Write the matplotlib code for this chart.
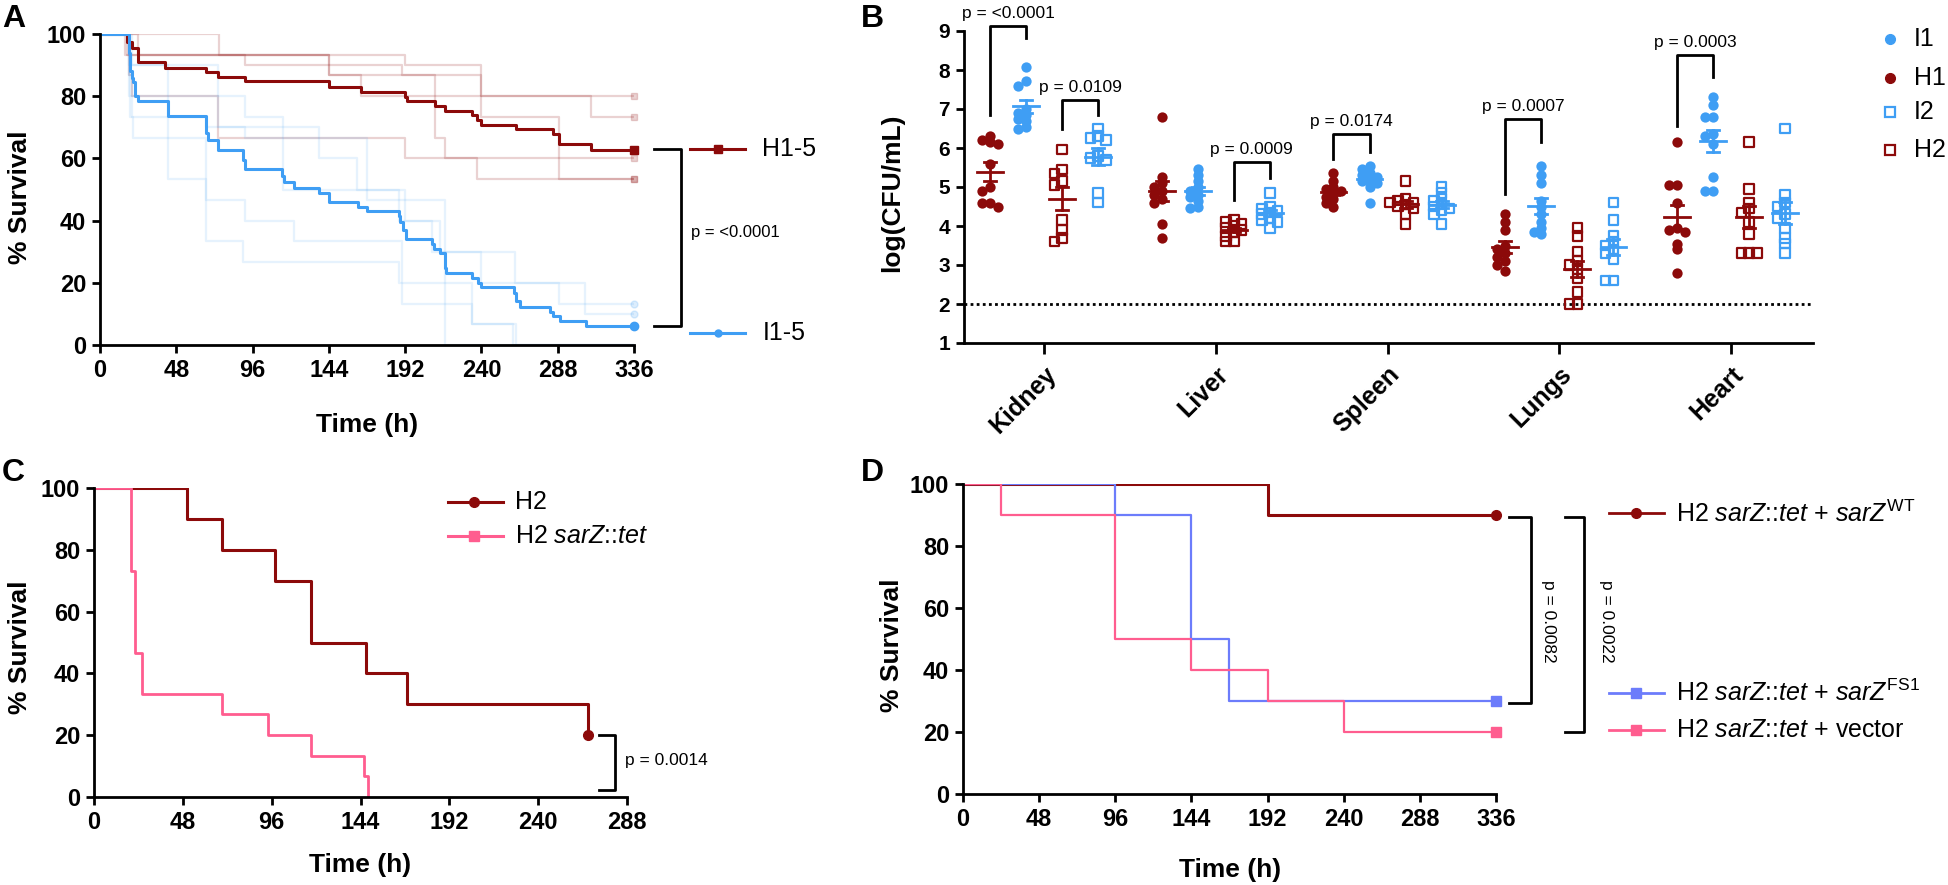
import matplotlib
matplotlib.use('Agg')
import matplotlib.pyplot as plt
import numpy as np
from matplotlib.lines import Line2D

plt.rcParams['mathtext.fontset'] = 'custom'
plt.rcParams['mathtext.rm'] = 'Liberation Sans'
plt.rcParams['mathtext.it'] = 'Liberation Sans:italic'
plt.rcParams['mathtext.bf'] = 'Liberation Sans:bold'

SANS = ['Liberation Sans', 'DejaVu Sans']
NARROW = ['Liberation Sans Narrow', 'Liberation Sans', 'DejaVu Sans']

DRED = '#8c0a0a'
BLUE = '#3f9ef4'
PINK = '#ff5d8f'
PERI = '#6c7cfb'

# ---------- panel A : pooled survival (H1-5 vs I1-5) ----------
h1_t = [17, 20, 24, 41, 67, 74.5, 91, 144, 164, 192, 193, 211, 217, 234, 237, 240, 261.5, 285, 289, 309]
h1_s = [97.3, 95.5, 91, 89, 87.8, 86.2, 84.8, 82.9, 81.5, 79.9, 78.5, 76.9, 75.4, 74, 72.3, 70.8, 69.4, 67.7, 64.7, 62.8]
i1_t = [18, 19, 20, 21, 22, 24, 43, 67, 68, 74.5, 90, 91, 114.7, 115.6, 122, 138, 144, 162.5, 168, 188, 189,
        190.6, 192.6, 209, 210, 214, 217, 218, 234, 237.6, 240, 260.7, 261.5, 264, 283, 285, 289.6, 305.6]
i1_s = [94, 88, 86, 84.5, 80, 78.3, 73.7, 68.1, 66, 62.8, 59.5, 56.7, 54.2, 52.3, 50.6, 49, 46.1, 44.5, 43.1,
        41.5, 39.7, 37, 34, 32.4, 30.8, 29.5, 24.7, 23.1, 21.7, 19.8, 18.6, 16.8, 14, 12.3, 10.7, 9.3, 7.7, 6.1]

# single strains (faint)
red_t = [[24, 192, 240, 309], [75, 144, 240], [18, 20, 74.5, 192],
         [17, 91, 190, 211, 217, 237], [16, 144, 164, 240, 289]]
red_s = [[93.3, 90, 80, 73.3], [93.3, 86.7, 80], [86.7, 80, 66.7, 60],
         [93.3, 90, 86.7, 66.7, 60, 53.3], [93.3, 86.7, 80, 73.3, 53.3]]
blue_t = [[18, 20, 43, 67, 90, 188, 190, 234, 260], [18, 20, 67, 91, 115, 192, 209, 217],
          [20, 74.5, 138, 162, 188, 214, 261, 305], [18, 43, 91, 115, 168, 217, 240, 289],
          [19, 21, 67, 91, 122, 190, 234, 262]]
blue_s = [[86.7, 80, 53.3, 33.3, 26.7, 20, 13.3, 6.7, 0], [80, 73.3, 70, 66.7, 50, 40, 30, 0],
          [90, 70, 60, 50, 40, 30, 20, 10], [90, 80, 73.3, 66.7, 46.7, 30, 20, 13.3],
          [73.3, 66.7, 46.7, 40, 33.3, 20, 6.7, 0]]

# ---------- panel B : organ burden ----------
organs = ['Kidney', 'Liver', 'Spleen', 'Lungs', 'Heart']
groups = ['H1', 'I1', 'H2', 'I2']
cfu_h1 = [[6.3, 6.2, 6.15, 6.1, 5.6, 5.0, 4.9, 4.6, 4.6, 4.5],
          [6.8, 5.25, 5.1, 5.0, 4.9, 4.8, 4.7, 4.6, 4.05, 3.7],
          [5.35, 5.15, 5.0, 4.95, 4.9, 4.85, 4.75, 4.7, 4.6, 4.5],
          [4.3, 4.1, 3.9, 3.5, 3.4, 3.3, 3.2, 3.1, 3.0, 2.85],
          [6.15, 5.05, 5.05, 4.6, 3.95, 3.9, 3.85, 3.55, 3.4, 2.8]]
cfu_i1 = [[8.08, 7.72, 7.6, 7.0, 6.9, 6.85, 6.75, 6.7, 6.55, 6.5],
          [5.45, 5.3, 5.15, 5.0, 4.9, 4.8, 4.75, 4.65, 4.5, 4.45],
          [5.55, 5.45, 5.35, 5.3, 5.25, 5.2, 5.15, 5.1, 5.0, 4.6],
          [5.55, 5.3, 5.1, 4.65, 4.5, 4.3, 4.1, 3.95, 3.85, 3.8],
          [7.3, 7.1, 6.8, 6.8, 6.35, 6.3, 6.1, 5.25, 4.9, 4.9]]
cfu_h2 = [[5.96, 5.45, 5.35, 5.15, 5.05, 4.15, 3.9, 3.7, 3.6],
          [4.15, 4.1, 4.05, 4.0, 3.95, 3.9, 3.85, 3.75, 3.6, 3.6],
          [5.15, 4.7, 4.65, 4.6, 4.6, 4.55, 4.5, 4.45, 4.3, 4.05],
          [3.95, 3.75, 3.35, 3.1, 3.0, 2.9, 2.65, 2.3, 2.0, 2.0],
          [6.15, 4.95, 4.6, 4.45, 4.35, 4.1, 3.8, 3.3, 3.3, 3.3]]
cfu_i2 = [[6.5, 6.3, 6.25, 6.2, 5.8, 5.75, 5.7, 4.85, 4.6],
          [4.85, 4.5, 4.45, 4.4, 4.35, 4.3, 4.2, 4.15, 4.1, 3.95],
          [5.0, 4.85, 4.7, 4.65, 4.55, 4.5, 4.45, 4.4, 4.3, 4.05],
          [4.6, 4.15, 3.75, 3.6, 3.5, 3.4, 3.3, 3.15, 2.6, 2.6],
          [6.5, 4.8, 4.6, 4.5, 4.3, 4.2, 3.95, 3.7, 3.55, 3.3]]
limit_detection = 2

pb_organ = [0, 0, 1, 2, 3, 4]
pb_pair = [(0, 1), (2, 3), (2, 3), (0, 1), (0, 1), (0, 1)]
pb_top = [9.13, 7.23, 5.65, 6.37, 6.74, 8.38]
pb_left = [6.85, 6.48, 4.66, 5.72, 4.82, 6.57]
pb_right = [8.83, 6.85, 5.23, 5.9, 6.16, 7.82]
pb_text = ['p = <0.0001', 'p = 0.0109', 'p = 0.0009', 'p = 0.0174', 'p = 0.0007', 'p = 0.0003']

# ---------- panel C ----------
h2_t = [50, 69, 98, 117, 147, 169, 267]
h2_s = [90, 80, 70, 50, 40, 30, 20]
ko_t = [20, 22, 26, 69, 94, 117, 146, 148]
ko_s = [73.3, 46.7, 33.3, 26.7, 20, 13.3, 6.7, 0]

# ---------- panel D ----------
wt_t = [192]
wt_s = [90]
fs_t = [96, 144, 168]
fs_s = [90, 50, 30]
vec_t = [24, 96, 144, 192, 240]
vec_s = [90, 50, 40, 30, 20]

W, H = 1949, 885
fig = plt.figure(figsize=(W / 100, H / 100), dpi=100)


def box(x0, x1, y0, y1):
    return [x0 / W, 1 - y1 / H, (x1 - x0) / W, (y1 - y0) / H]


def fx(x):
    return x / W


def fy(y):
    return 1 - y / H


def style(ax, narrow=True, size=17):
    for s in ['top', 'right']:
        ax.spines[s].set_visible(False)
    for s in ['left', 'bottom']:
        ax.spines[s].set_linewidth(2.0)
    ax.tick_params(width=2.0, length=6, pad=4)
    for lab in ax.get_xticklabels() + ax.get_yticklabels():
        lab.set_fontfamily(NARROW if narrow else SANS)
        lab.set_fontweight('bold')
        lab.set_fontsize(size)


def km(ax, t, s, end, **kw):
    ax.step([0] + list(t) + [end], [100] + list(s) + [s[-1]], where='post', **kw)


def flabel(x, y, txt, rot=0):
    fig.text(fx(x), fy(y), txt, ha='center', va='center', rotation=rot,
             fontsize=19, fontweight='bold', family=SANS)


# ================= A =================
axA = fig.add_axes(box(100, 634, 34, 345))
for t, s in zip(red_t, red_s):
    km(axA, t, s, 336, color=DRED, alpha=0.18, lw=1.6)
    axA.plot([336], [s[-1]], 's', color=DRED, alpha=0.18, ms=5, clip_on=False)
for t, s in zip(blue_t, blue_s):
    km(axA, t, s, 336, color=BLUE, alpha=0.13, lw=1.6)
    if s[-1] > 0:
        axA.plot([336], [s[-1]], 'o', color=BLUE, alpha=0.18, ms=5, clip_on=False)
km(axA, h1_t, h1_s, 336, color=DRED, lw=2.2)
axA.plot([336], [h1_s[-1]], 's', color=DRED, ms=6, clip_on=False)
km(axA, i1_t, i1_s, 336, color=BLUE, lw=2.2)
axA.plot([336], [i1_s[-1]], 'o', color=BLUE, ms=6, clip_on=False)
axA.set_xlim(0, 336)
axA.set_ylim(0, 100)
axA.set_xticks(np.arange(0, 337, 48))
axA.set_yticks(np.arange(0, 101, 20))
style(axA)
axA.plot([348.6, 365.6, 365.6, 348.6], [63, 63, 6, 6], color='k', lw=2, clip_on=False)
axA.text(371.9, 36.3, 'p = <0.0001', ha='left', va='center', fontsize=12, family=SANS)
axA.plot([371, 406], [63, 63], color=DRED, lw=2.2, clip_on=False)
axA.plot([389], [63], 's', color=DRED, ms=6, clip_on=False)
axA.text(416.7, 63, 'H1-5', ha='left', va='center', fontsize=18, family=SANS)
axA.plot([371, 406], [4, 4], color=BLUE, lw=2.2, clip_on=False)
axA.plot([389], [4], 'o', color=BLUE, ms=5, clip_on=False)
axA.text(416.7, 4, 'I1-5', ha='left', va='center', fontsize=18, family=SANS)
flabel(367, 425, 'Time (h)')
flabel(20, 197, '% Survival', 90)

# ================= B =================
axB = fig.add_axes(box(964, 1813, 31, 343))
d = 0.21
offsets = [-1.5 * d, -0.5 * d, 0.5 * d, 1.5 * d]
all_groups = [cfu_h1, cfu_i1, cfu_h2, cfu_i2]
g_color = [DRED, BLUE, DRED, BLUE]
g_filled = [True, True, False, False]


def spread(vals, step=0.045, near=0.13):
    vals = np.asarray(vals)
    offs = np.zeros(len(vals))
    placed = []
    for i in np.argsort(vals)[::-1]:
        used = [offs[j] for j in placed if abs(vals[j] - vals[i]) < near]
        for c in [0, -1, 1, -2, 2, -3, 3]:
            if all(abs(c * step - u) > 1e-6 for u in used):
                offs[i] = c * step
                break
        placed.append(i)
    return offs


for gi, data in enumerate(all_groups):
    for oi, vals in enumerate(data):
        xc = oi + offsets[gi]
        xs = xc + spread(vals)
        if g_filled[gi]:
            axB.scatter(xs, vals, s=55, color=g_color[gi], zorder=3, linewidths=0)
        else:
            axB.scatter(xs, vals, s=48, marker='s', facecolors='none',
                        edgecolors=g_color[gi], linewidths=1.6, zorder=3)
        m = np.mean(vals)
        se = np.std(vals, ddof=1) / np.sqrt(len(vals))
        axB.plot([xc - 0.075, xc + 0.075], [m, m], color=g_color[gi], lw=2, zorder=4)
        axB.plot([xc, xc], [m - se, m + se], color=g_color[gi], lw=2, zorder=4)
        for yy in (m - se, m + se):
            axB.plot([xc - 0.035, xc + 0.035], [yy, yy], color=g_color[gi], lw=2, zorder=4)

axB.axhline(limit_detection, color='k', lw=2, ls=(0, (1, 1.2)))
for oi, pr, top, yl, yr, txt in zip(pb_organ, pb_pair, pb_top, pb_left, pb_right, pb_text):
    xl = oi + offsets[pr[0]]
    xr = oi + offsets[pr[1]]
    axB.plot([xl, xl, xr, xr], [yl, top, top, yr], color='k', lw=2, clip_on=False)
    axB.text((xl + xr) / 2, top + 0.12, txt, ha='center', va='bottom', fontsize=12.5, family=SANS)
axB.set_xlim(-0.466, 4.477)
axB.set_ylim(1, 9)
axB.set_xticks(range(len(organs)))
axB.set_xticklabels(organs, rotation=45, ha='right', rotation_mode='anchor')
axB.set_yticks(range(1, 10))
style(axB, narrow=False, size=15)
for lab in axB.get_xticklabels():
    lab.set_fontsize(18)
axB.tick_params(axis='x', pad=6, length=8)
flabel(892, 193, 'log(CFU/mL)', 90)

leg_y = [39, 78, 112, 150]
leg_lab = ['I1', 'H1', 'I2', 'H2']
leg_col = [BLUE, DRED, BLUE, DRED]
leg_mk = ['o', 'o', 's', 's']
for y, lab, c, mk in zip(leg_y, leg_lab, leg_col, leg_mk):
    if mk == 'o':
        fig.add_artist(Line2D([fx(1890)], [fy(y)], marker='o', ms=7, color=c, ls='none',
                              transform=fig.transFigure))
    else:
        fig.add_artist(Line2D([fx(1890)], [fy(y)], marker='s', ms=7, mfc='none', mec=c, mew=1.6,
                              ls='none', transform=fig.transFigure))
    fig.text(fx(1914), fy(y), lab, ha='left', va='center', fontsize=18, family=SANS)

# ================= C =================
axC = fig.add_axes(box(94, 627, 488, 797))
km(axC, h2_t, h2_s, 267, color=DRED, lw=2.2)
axC.plot([267], [20], 'o', color=DRED, ms=7, clip_on=False)
km(axC, ko_t, ko_s, 148, color=PINK, lw=2.0)
axC.set_xlim(0, 288)
axC.set_ylim(0, 100)
axC.set_xticks(np.arange(0, 289, 48))
axC.set_yticks(np.arange(0, 101, 20))
style(axC)
axC.plot([273, 281.6, 281.6, 273], [20, 20, 2.2, 2.2], color='k', lw=2, clip_on=False)
axC.text(287, 11.7, 'p = 0.0014', ha='left', va='center', fontsize=12.5, family=SANS)
axC.plot([191.3, 221], [95.5, 95.5], color=DRED, lw=2.2, clip_on=False)
axC.plot([205.3], [95.5], 'o', color=DRED, ms=7, clip_on=False)
axC.text(227.4, 95.5, 'H2', ha='left', va='center', fontsize=18, family=SANS)
axC.plot([191.3, 221], [84.5, 84.5], color=PINK, lw=2.2, clip_on=False)
axC.plot([205.3], [84.5], 's', color=PINK, ms=6.5, clip_on=False)
axC.text(227.4, 84.5, r'H2 $\mathit{sarZ}$::$\mathit{tet}$', ha='left', va='center', fontsize=18, family=SANS)
flabel(360, 865, 'Time (h)')
flabel(20, 647, '% Survival', 90)

# ================= D =================
axD = fig.add_axes(box(963, 1496, 484, 794))
km(axD, wt_t, wt_s, 336, color=DRED, lw=2.2)
axD.plot([336], [wt_s[-1]], 'o', color=DRED, ms=7, clip_on=False)
km(axD, fs_t, fs_s, 336, color=PERI, lw=1.6)
axD.plot([336], [fs_s[-1]], 's', color=PERI, ms=7, clip_on=False)
km(axD, vec_t, vec_s, 336, color=PINK, lw=1.6)
axD.plot([336], [vec_s[-1]], 's', color=PINK, ms=7, clip_on=False)
axD.set_xlim(0, 336)
axD.set_ylim(0, 100)
axD.set_xticks(np.arange(0, 337, 48))
axD.set_yticks(np.arange(0, 101, 20))
style(axD)
axD.plot([344.4, 358, 358, 344.4], [89.5, 89.5, 29.5, 29.5], color='k', lw=2, clip_on=False)
axD.plot([379.4, 391.4, 391.4, 379.4], [89.5, 89.5, 20, 20], color='k', lw=2, clip_on=False)
axD.text(369.3, 55.6, 'p = 0.0082', ha='center', va='center', rotation=270, fontsize=12.5, family=SANS)
axD.text(405.4, 55.6, 'p = 0.0022', ha='center', va='center', rotation=270, fontsize=12.5, family=SANS)
d_leg_y = [90.5, 32.5, 20.5]
d_leg_c = [DRED, PERI, PINK]
d_leg_m = ['o', 's', 's']
d_leg_t = [r'H2 $\mathit{sarZ}$::$\mathit{tet}$ + $\mathit{sarZ}^{\mathrm{WT}}$',
           r'H2 $\mathit{sarZ}$::$\mathit{tet}$ + $\mathit{sarZ}^{\mathrm{FS1}}$',
           r'H2 $\mathit{sarZ}$::$\mathit{tet}$ + vector']
for y, c, mk, t in zip(d_leg_y, d_leg_c, d_leg_m, d_leg_t):
    axD.plot([407.5, 441.6], [y, y], color=c, lw=2, clip_on=False)
    axD.plot([424.3], [y], mk, color=c, ms=7, clip_on=False)
    axD.text(449.6, y, t, ha='left', va='center', fontsize=18, family=SANS)
flabel(1230, 870, 'Time (h)')
flabel(892, 645, '% Survival', 90)

# panel letters
for x, y, L in [(2, 4, 'A'), (861, 4, 'B'), (2, 458, 'C'), (861, 458, 'D')]:
    fig.text(fx(x), fy(y), L, ha='left', va='top', fontsize=23, fontweight='bold', family=SANS)

fig.savefig('out.png', dpi=100)
